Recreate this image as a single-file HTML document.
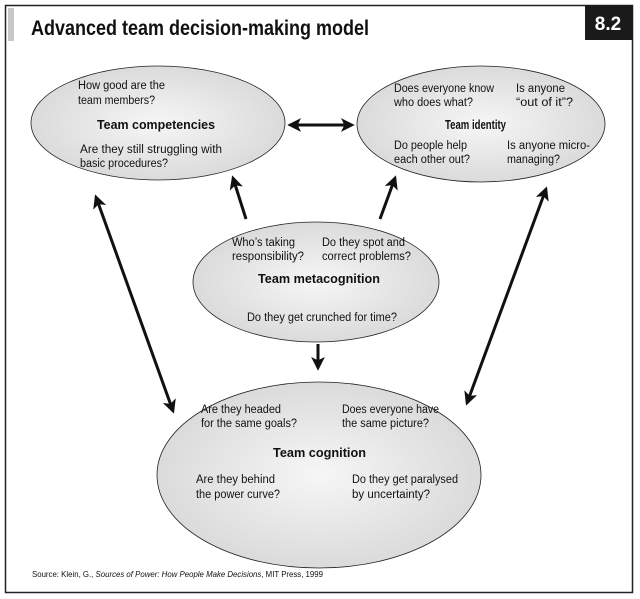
<!DOCTYPE html>
<html><head><meta charset="utf-8"><style>
html,body{margin:0;padding:0;background:#fff}
svg{display:block}
text{font-family:"Liberation Sans",sans-serif;fill:#111}
.q{font-size:11.5px}
.b{font-size:13px;font-weight:bold}
</style></head><body>
<svg width="640" height="599" viewBox="0 0 640 599">
<defs>
<radialGradient id="g" cx="50%" cy="50%" r="55%">
<stop offset="0" stop-color="#f6f6f6"/><stop offset="1" stop-color="#d8d8d8"/>
</radialGradient>
<marker id="a" viewBox="0 0 10 10" refX="8" refY="5" markerWidth="4.6" markerHeight="4.6" orient="auto-start-reverse">
<path d="M0,0 L10,5 L0,10 L2.5,5 Z" fill="#111"/>
</marker>
</defs>
<rect x="5.5" y="5.5" width="627" height="587" fill="#fff" stroke="#222" stroke-width="1.5"/>
<rect x="8" y="8" width="6" height="33" fill="#c8c8c8"/>
<rect x="585" y="5" width="48" height="35" fill="#1a1a1a"/>
<text x="608" y="30" text-anchor="middle" style="font-size:19px;font-weight:bold;fill:#fff">8.2</text>
<text x="31" y="35" textLength="338" lengthAdjust="spacingAndGlyphs" style="font-size:21px;font-weight:bold">Advanced team decision-making model</text>

<ellipse cx="158" cy="123" rx="127" ry="57" fill="url(#g)" stroke="#222" stroke-width="0.8"/>
<ellipse cx="481" cy="124" rx="124" ry="58" fill="url(#g)" stroke="#222" stroke-width="0.8"/>
<ellipse cx="316" cy="282" rx="123" ry="60" fill="url(#g)" stroke="#222" stroke-width="0.8"/>
<ellipse cx="319" cy="475" rx="162" ry="93" fill="url(#g)" stroke="#222" stroke-width="0.8"/>

<g stroke="#111" stroke-width="3" fill="none">
<line x1="290" y1="125" x2="352" y2="125" marker-start="url(#a)" marker-end="url(#a)"/>
<line x1="246" y1="219" x2="233" y2="178" marker-end="url(#a)"/>
<line x1="380" y1="219" x2="395" y2="178" marker-end="url(#a)"/>
<line x1="318" y1="344" x2="318" y2="368" marker-end="url(#a)"/>
<line x1="96" y1="197" x2="173" y2="411" marker-start="url(#a)" marker-end="url(#a)"/>
<line x1="546" y1="189" x2="467" y2="403" marker-start="url(#a)" marker-end="url(#a)"/>
</g>

<text class="q" x="78" y="89" textLength="87" lengthAdjust="spacingAndGlyphs">How good are the</text>
<text class="q" x="78" y="104" textLength="77" lengthAdjust="spacingAndGlyphs">team members?</text>
<text class="b" x="97" y="129" textLength="118" lengthAdjust="spacingAndGlyphs">Team competencies</text>
<text class="q" x="80" y="153" textLength="142" lengthAdjust="spacingAndGlyphs">Are they still struggling with</text>
<text class="q" x="80" y="167" textLength="88" lengthAdjust="spacingAndGlyphs">basic procedures?</text>

<text class="q" x="394" y="92" textLength="100" lengthAdjust="spacingAndGlyphs">Does everyone know</text>
<text class="q" x="394" y="106" textLength="79" lengthAdjust="spacingAndGlyphs">who does what?</text>
<text class="q" x="516" y="92" textLength="49" lengthAdjust="spacingAndGlyphs">Is anyone</text>
<text class="q" x="516" y="106" textLength="57" lengthAdjust="spacingAndGlyphs">“out of it”?</text>
<text class="b" x="445" y="129" textLength="61" lengthAdjust="spacingAndGlyphs">Team identity</text>
<text class="q" x="394" y="149" textLength="73" lengthAdjust="spacingAndGlyphs">Do people help</text>
<text class="q" x="394" y="163" textLength="76" lengthAdjust="spacingAndGlyphs">each other out?</text>
<text class="q" x="507" y="149" textLength="83" lengthAdjust="spacingAndGlyphs">Is anyone micro-</text>
<text class="q" x="507" y="163" textLength="53" lengthAdjust="spacingAndGlyphs">managing?</text>

<text class="q" x="232" y="246" textLength="63" lengthAdjust="spacingAndGlyphs">Who’s taking</text>
<text class="q" x="232" y="260" textLength="72" lengthAdjust="spacingAndGlyphs">responsibility?</text>
<text class="q" x="322" y="246" textLength="83" lengthAdjust="spacingAndGlyphs">Do they spot and</text>
<text class="q" x="322" y="260" textLength="89" lengthAdjust="spacingAndGlyphs">correct problems?</text>
<text class="b" x="258" y="283" textLength="122" lengthAdjust="spacingAndGlyphs">Team metacognition</text>
<text class="q" x="247" y="321" textLength="150" lengthAdjust="spacingAndGlyphs">Do they get crunched for time?</text>

<text class="q" x="201" y="413" textLength="80" lengthAdjust="spacingAndGlyphs">Are they headed</text>
<text class="q" x="201" y="427" textLength="96" lengthAdjust="spacingAndGlyphs">for the same goals?</text>
<text class="q" x="342" y="413" textLength="97" lengthAdjust="spacingAndGlyphs">Does everyone have</text>
<text class="q" x="342" y="427" textLength="87" lengthAdjust="spacingAndGlyphs">the same picture?</text>
<text class="b" x="273" y="457" textLength="93" lengthAdjust="spacingAndGlyphs">Team cognition</text>
<text class="q" x="196" y="483" textLength="79" lengthAdjust="spacingAndGlyphs">Are they behind</text>
<text class="q" x="196" y="498" textLength="84" lengthAdjust="spacingAndGlyphs">the power curve?</text>
<text class="q" x="352" y="483" textLength="106" lengthAdjust="spacingAndGlyphs">Do they get paralysed</text>
<text class="q" x="352" y="498" textLength="78" lengthAdjust="spacingAndGlyphs">by uncertainty?</text>

<text x="32" y="577" textLength="291" lengthAdjust="spacingAndGlyphs" style="font-size:8.5px">Source: Klein, G., <tspan font-style="italic">Sources of Power: How People Make Decisions</tspan>, MIT Press, 1999</text>
</svg>
</body></html>
